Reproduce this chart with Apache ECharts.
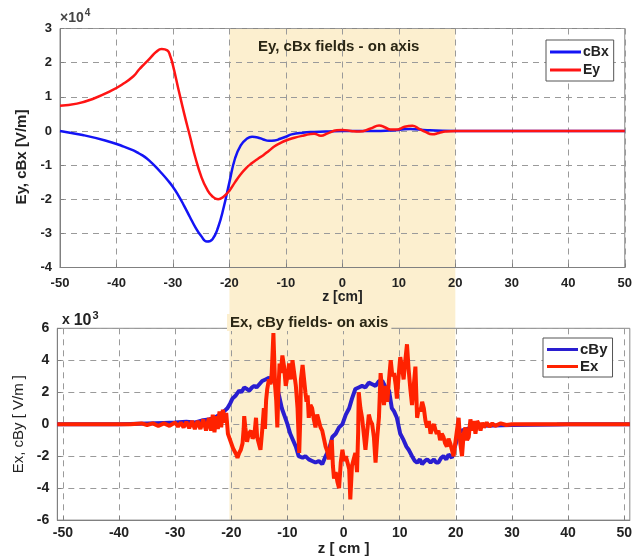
<!DOCTYPE html>
<html><head><meta charset="utf-8">
<script src="https://cdn.jsdelivr.net/npm/echarts@6/dist/echarts.min.js"></script>
<style>html,body{margin:0;padding:0;background:#fff}#c{width:635px;height:557px}</style>
</head><body><div id="c"></div>
<script>
// ---------- DATA ----------
// Top panel (units of 1e4 V/m)
const cbxZ = [-50,-46,-42,-39,-37,-36,-35,-34,-33,-32,-31,-30,-29,-28,-27,-26,-25,-24,-23,-22,-21,-20,-19,-18,-17,-16,-15,-14,-13,-12,-11,-10,-9,-7,-5,-3,0,5,10,12,15,20,30,40,50];
const cbxV = [0,-0.12,-0.28,-0.44,-0.57,-0.66,-0.76,-0.9,-1.06,-1.24,-1.43,-1.64,-1.9,-2.2,-2.52,-2.83,-3.08,-3.24,-3.17,-2.82,-2.23,-1.5,-0.8,-0.42,-0.24,-0.17,-0.19,-0.25,-0.29,-0.28,-0.23,-0.17,-0.1,-0.05,-0.03,-0.02,0,0,0.03,0.06,0.02,0,0,0,0];
const eyZ = [-50,-47,-44,-41,-39,-37,-36,-35,-34,-33,-32,-31,-30.5,-30,-29,-28,-27,-26,-25,-24,-23,-22,-21,-20,-19,-18,-17,-16,-15,-14,-13,-12,-11,-10,-8.5,-7,-5,-3.8,-2.6,-1,0,1.5,3,5,6.5,7.6,8.5,9.7,11,12.4,13.5,14.7,15.9,17.1,18.2,20,30,40,50];
const eyV = [0.74,0.8,0.95,1.17,1.36,1.6,1.8,1.97,2.14,2.31,2.4,2.36,2.2,1.92,1.2,0.5,-0.15,-0.8,-1.33,-1.7,-1.92,-2.0,-1.92,-1.75,-1.5,-1.27,-1.08,-0.94,-0.82,-0.71,-0.58,-0.45,-0.36,-0.28,-0.2,-0.14,-0.08,-0.14,-0.07,0.02,0.03,0.0,-0.02,0.07,0.16,0.1,0.04,0.04,0.12,0.15,0.07,-0.03,-0.1,-0.06,-0.02,0,0,0,0];

// Bottom panel (units of 1e3 V/m), [z, value]
const cbyPts = [[-51,0],[-40,0],[-38,0.02],[-35,0.05],[-32,0.08],[-30,0.1],[-28,0.15],[-26.6,0.1],[-25,0.25],[-24,0.3],[-23,0.4],[-22,0.6],[-21.3,0.8],[-20.7,1.0],[-20.2,1.3],[-19.8,1.6],[-19.2,1.8],[-18.6,2.1],[-18.2,2.0],[-17.7,2.3],[-17.2,2.2],[-16.8,2.1],[-16.3,2.3],[-15.9,2.4],[-15.5,2.3],[-15,2.5],[-14.5,2.7],[-13.9,2.8],[-13.3,2.9],[-12.5,2.7],[-12,2.5],[-11.5,1.8],[-11,1.0],[-10.5,0.5],[-10,0.0],[-9.5,-0.6],[-9,-1.0],[-8.5,-1.4],[-8,-2.0],[-7.3,-2.1],[-6.8,-2.0],[-6.2,-2.2],[-5.6,-2.3],[-5,-2.4],[-4.4,-2.3],[-3.8,-2.5],[-3.2,-2.0],[-2.6,-1.6],[-2.0,-0.8],[-1.4,-0.6],[-0.8,-0.2],[-0.2,0.0],[0.4,0.6],[1.0,1.0],[1.5,1.6],[2.1,2.2],[2.7,2.3],[3.3,2.4],[3.9,2.3],[4.5,2.6],[5.1,2.5],[5.7,2.4],[6.3,2.7],[6.9,2.7],[7.5,2.3],[8.1,2.1],[8.6,1.0],[9.0,0.8],[9.5,0.4],[10.1,-0.6],[10.7,-1.0],[11.2,-1.4],[11.6,-1.6],[12.2,-2.0],[12.7,-2.3],[13.1,-2.4],[13.6,-2.2],[14.0,-2.5],[14.5,-2.3],[14.9,-2.2],[15.5,-2.4],[16.1,-2.2],[16.5,-2.4],[16.9,-2.4],[17.4,-2.1],[17.8,-2.0],[18.3,-2.2],[18.7,-1.9],[19.3,-2.1],[19.6,-2.0],[20.0,-1.2],[20.5,-0.6],[21,-0.4],[22,-0.3],[23,-0.2],[24,-0.15],[25,-0.1],[30,-0.05],[38,-0.02],[40,0],[51,0]];
const exPts = [[-51,0],[-38,0],[-36,0.05],[-35,-0.05],[-34,0.05],[-33,-0.1],[-32,0.05],[-31,-0.1],[-30,0.1],[-29.5,-0.15],[-29,0.1],[-28.5,-0.2],[-28,0.15],[-27.5,-0.25],[-27,0.2],[-26.5,-0.3],[-26,0.2],[-25.5,-0.3],[-25,0.3],[-24.5,-0.4],[-24,0.4],[-23.6,-0.4],[-23.3,0.6],[-23,-0.5],[-22.7,0.5],[-22.4,-0.3],[-22.1,0.8],[-21.8,-0.2],[-21.5,0.9],[-21.2,0.1],[-20.9,0.7],[-20.6,-0.6],[-20.3,-0.9],[-20,-1.2],[-19.7,-1.5],[-19.4,-1.7],[-19.1,-1.9],[-18.9,-2.1],[-18.6,-1.8],[-18.3,-1.6],[-18,-1.2],[-17.8,-0.3],[-17.7,0.5],[-17.5,-0.2],[-17.2,-1.1],[-16.9,-0.6],[-16.5,-0.4],[-16.2,-0.9],[-15.9,-0.7],[-15.6,0.4],[-15.4,-0.8],[-15.1,-0.9],[-14.8,-1.6],[-14.5,-0.4],[-14.2,1.0],[-14,-0.3],[-13.8,1.5],[-13.6,2.2],[-13.3,2.8],[-13,2.5],[-12.8,3.2],[-12.5,5.7],[-12.3,3.5],[-12.2,2.4],[-12,1.5],[-11.8,-0.2],[-11.6,2.2],[-11.4,3.8],[-11.2,3.2],[-10.9,4.3],[-10.6,3.6],[-10.3,2.4],[-10,3.0],[-9.7,3.8],[-9.4,2.8],[-9.1,4.0],[-8.8,3.2],[-8.5,2.4],[-8.2,1.0],[-7.9,-1.8],[-7.7,0.5],[-7.6,2.8],[-7.3,3.7],[-7,3.6],[-6.8,2.0],[-6.6,1.4],[-6.4,1.8],[-6.2,0.4],[-5.9,1.2],[-5.6,1.0],[-5.3,0.3],[-5,-0.2],[-4.7,0.6],[-4.4,0.2],[-4.1,-0.2],[-3.8,-0.4],[-3.5,-0.9],[-3.2,-1.4],[-2.9,-1.7],[-2.6,-2.2],[-2.3,-1.3],[-2.1,-1.0],[-1.9,-2.6],[-1.7,-3.4],[-1.4,-3.0],[-1.1,-3.6],[-0.8,-4.0],[-0.5,-2.4],[-0.2,-1.6],[0.1,-2.3],[0.4,-2.0],[0.7,-2.4],[1,-2.8],[1.2,-4.7],[1.5,-2.6],[1.8,-2.2],[2.1,-1.8],[2.4,-3.0],[2.6,-0.5],[2.7,2.0],[3,1.0],[3.3,0.4],[3.6,-0.6],[3.9,-1.6],[4.2,-0.5],[4.5,0.6],[4.8,0.2],[5.1,0.0],[5.4,-0.8],[5.7,-2.4],[6,-0.8],[6.3,0.4],[6.6,3.2],[6.9,2.0],[7.2,1.2],[7.5,2.4],[7.8,1.4],[8.1,2.8],[8.4,4.0],[8.7,3.0],[9,3.2],[9.3,2.4],[9.5,1.6],[9.8,3.0],[10.1,4.2],[10.4,3.6],[10.7,2.8],[11,4.0],[11.3,5.0],[11.6,3.4],[11.9,2.2],[12.2,1.2],[12.5,2.4],[12.8,3.6],[13.1,0.4],[13.4,1.0],[13.7,0.8],[14,1.4],[14.3,1.0],[14.6,0.2],[14.9,-0.2],[15.2,0.2],[15.5,-0.6],[15.8,-0.2],[16.1,0.0],[16.4,-0.4],[16.6,-0.6],[16.9,-0.4],[17.2,-1.0],[17.5,-0.6],[17.8,-0.8],[18.1,-1.2],[18.4,-1.4],[18.7,-0.9],[19,-1.2],[19.3,-1.6],[19.6,-2.0],[19.9,-1.2],[20.2,-0.4],[20.5,0.4],[20.8,-1.2],[21.1,-2.0],[21.4,-0.6],[21.7,-0.2],[22,-1.0],[22.3,-0.8],[22.6,0.3],[22.9,-0.4],[23.2,0.2],[23.5,-0.6],[23.8,0.2],[24.1,0.0],[24.4,-0.4],[24.7,0.1],[25,-0.2],[25.5,0.1],[26,-0.15],[26.5,0.05],[27,-0.1],[28,0.05],[29,-0.05],[30,0],[51,0]];

const shadeZ = [-20, 20];
const xTicks = [-50,-40,-30,-20,-10,0,10,20,30,40,50];
const topY = [-4, 3];
const botY = [-6, 6];
const botX = [-51, 51];

// ---------- CHART ----------
const FONT = 'Liberation Sans, Arial, sans-serif';
const SHADE = '#fcefcf';
const chart = echarts.init(document.getElementById('c'), null, {renderer: 'canvas'});
const dashed = {show: true, lineStyle: {color: '#9a9a9a', type: [6, 5], width: 1}};
const axLine = {show: true, onZero: false, lineStyle: {color: '#808080', width: 1}};
const lbl = (s) => ({color: '#222', fontWeight: 'bold', fontSize: s, fontFamily: FONT});
const tick = {show: true, inside: true, length: 4, lineStyle: {color: '#808080'}};

const option = {
  animation: false,
  backgroundColor: '#fff',
  textStyle: {fontFamily: FONT},
  title: [
    {text: 'Ey, cBx fields - on axis', left: 253, top: 34,
     textStyle: {fontSize: 15, fontWeight: 'bold', color: '#2a2614', fontFamily: FONT}},
    {text: 'Ex, cBy fields- on axis', left: 227, top: 314, padding: [1, 3, 1, 3], backgroundColor: SHADE,
     textStyle: {fontSize: 15, fontWeight: 'bold', color: '#2a2614', fontFamily: FONT}},
    {text: '{a|×10}{b|4}', left: 60, top: 8, padding: 0,
     textStyle: {rich: {a: {fontSize: 14, color: '#444', fontFamily: FONT}, b: {fontSize: 10, color: '#444', padding: [0,0,10,1], fontFamily: FONT}}}},
    {text: '{x|x }{a|10}{b|3}', left: 62, top: 310, padding: 0,
     textStyle: {rich: {x: {fontSize: 14, color: '#222', fontFamily: FONT}, a: {fontSize: 16, fontWeight: 'bold', color: '#222', fontFamily: FONT}, b: {fontSize: 11, color: '#222', padding: [0,0,10,1], fontFamily: FONT}}}}
  ],
  legend: [
    {data: ['cBx', 'Ey'], orient: 'vertical', left: 546, top: 40, itemWidth: 31, itemHeight: 3, itemGap: 4,
     icon: 'rect', padding: [5, 5, 4, 4], borderColor: '#555', borderWidth: 1, backgroundColor: '#fff',
     textStyle: {fontSize: 14, fontWeight: 'bold', color: '#222', padding: [0,0,0,-3]}},
    {data: ['cBy', 'Ex'], orient: 'vertical', left: 543, top: 338, itemWidth: 31, itemHeight: 3, itemGap: 2,
     icon: 'rect', padding: [4, 5, 3, 4], borderColor: '#555', borderWidth: 1, backgroundColor: '#fff',
     textStyle: {fontSize: 15, fontWeight: 'bold', color: '#222', padding: [0,0,0,-3]}}
  ],
  grid: [
    {left: 60, top: 28.5, right: 6, bottom: 289.5, show: true, borderColor: '#888', borderWidth: 1, backgroundColor: 'transparent'},
    {left: 57.3, top: 328.3, right: 3.3, bottom: 32, show: true, borderColor: '#888', borderWidth: 1, backgroundColor: 'transparent'}
  ],
  xAxis: [
    {type: 'value', gridIndex: 0, min: -50, max: 50, interval: 10,
     name: 'z [cm]', nameLocation: 'middle', nameGap: 23,
     nameTextStyle: {fontSize: 14, fontWeight: 'bold', color: '#222'},
     axisLine: axLine, axisTick: tick,
     axisLabel: Object.assign(lbl(13), {margin: 9}), splitLine: dashed},
    {type: 'value', gridIndex: 1, min: botX[0], max: botX[1],
     name: 'z [ cm ]', nameLocation: 'middle', nameGap: 18,
     nameTextStyle: {fontSize: 15, fontWeight: 'bold', color: '#222'},
     axisLine: axLine, axisTick: Object.assign({customValues: xTicks}, tick),
     axisLabel: Object.assign(lbl(14), {margin: 6, customValues: xTicks}), splitLine: dashed}
  ],
  yAxis: [
    {type: 'value', gridIndex: 0, min: topY[0], max: topY[1], interval: 1,
     name: 'Ey, cBx [V/m]', nameLocation: 'middle', nameGap: 28,
     nameTextStyle: {fontSize: 15, fontWeight: 'bold', color: '#222', padding: [0, 18, 0, 0]},
     axisLine: axLine, axisTick: tick,
     axisLabel: Object.assign(lbl(13), {margin: 8}), splitLine: dashed},
    {type: 'value', gridIndex: 1, min: botY[0], max: botY[1], interval: 2,
     name: 'Ex, cBy [ V/m ]', nameLocation: 'middle', nameGap: 28,
     nameTextStyle: {fontSize: 15, fontWeight: 'normal', color: '#222'},
     axisLine: axLine, axisTick: tick,
     axisLabel: Object.assign(lbl(14), {margin: 8}), splitLine: dashed}
  ],
  series: [
    {name: 'cBx', type: 'line', xAxisIndex: 0, yAxisIndex: 0, showSymbol: false, smooth: 0.5,
     color: '#1414f5', lineStyle: {width: 2.5, color: '#1414f5'},
     data: cbxZ.map((z, i) => [z, cbxV[i]])},
    {name: 'Ey', type: 'line', xAxisIndex: 0, yAxisIndex: 0, showSymbol: false, smooth: 0.5,
     color: '#ff1414', lineStyle: {width: 2.5, color: '#ff1414'},
     data: eyZ.map((z, i) => [z, eyV[i]])},
    {name: 'cBy', type: 'line', xAxisIndex: 1, yAxisIndex: 1, showSymbol: false,
     color: '#2a1ed0', lineStyle: {width: 4, color: '#2a1ed0', join: 'bevel'}, data: cbyPts},
    {name: 'Ex', type: 'line', xAxisIndex: 1, yAxisIndex: 1, showSymbol: false,
     color: '#ff2200', lineStyle: {width: 4, color: '#ff2200', join: 'bevel'}, data: exPts}
  ]
};
chart.setOption(option);

// shaded band from -20 to 20 spanning both panels (positions from the library's scales)
const sx1 = chart.convertToPixel({xAxisIndex: 0}, shadeZ[0]);
const sx2 = chart.convertToPixel({xAxisIndex: 0}, shadeZ[1]);
const sy1 = chart.convertToPixel({yAxisIndex: 0}, topY[1]);
const sy2 = chart.convertToPixel({yAxisIndex: 1}, botY[0]);
chart.setOption({graphic: [{type: 'rect', z: -10, silent: true,
  shape: {x: sx1, y: sy1, width: sx2 - sx1, height: sy2 - sy1}, style: {fill: SHADE}}]});
</script></body></html>
